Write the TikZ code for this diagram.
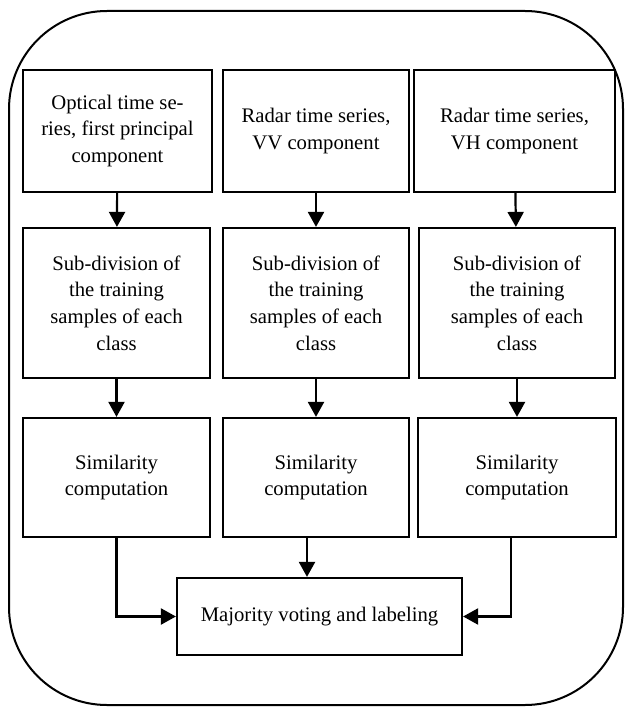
\documentclass[tikz,border=0pt]{standalone}
\usepackage{fontspec}
\setmainfont{Liberation Serif}
\usetikzlibrary{arrows.meta}
\newcommand{\myfs}{\fontsize{20.7}{26.7}\selectfont}
\begin{document}
\begin{tikzpicture}[x=1pt,y=-1pt,
  box/.style={draw, line width=2.2pt, inner sep=0pt, align=center, font=\myfs},
  arr/.style={line width=2.2pt, -{Triangle[width=16pt,length=15pt]}}]
\useasboundingbox (0,0) rectangle (624,708);
\draw[line width=2pt, rounded corners=98pt] (9,11) rectangle (623,705);
% row 1
\node[box, minimum width=189pt, minimum height=122pt] (a1) at (117.5,131) {Optical time se-\\ries, first principal\\component};
\node[box, minimum width=186pt, minimum height=122pt] (a2) at (316,131) {Radar time series,\\VV component};
\node[box, minimum width=201pt, minimum height=122pt] (a3) at (514.5,131) {Radar time series,\\VH component};
% row 2
\node[box, minimum width=187pt, minimum height=150pt] (b1) at (116.5,303) {Sub-division of\\the training\\samples of each\\class};
\node[box, minimum width=186pt, minimum height=150pt] (b2) at (316,303) {Sub-division of\\the training\\samples of each\\class};
\node[box, minimum width=196pt, minimum height=150pt] (b3) at (517,303) {Sub-division of\\the training\\samples of each\\class};
% row 3
\node[box, minimum width=187pt, minimum height=119pt] (c1) at (116.5,477.5) {Similarity\\computation};
\node[box, minimum width=186pt, minimum height=119pt] (c2) at (316,477.5) {Similarity\\computation};
\node[box, minimum width=198pt, minimum height=119pt] (c3) at (517,477.5) {Similarity\\computation};
% bottom
\node[box, minimum width=285pt, minimum height=77pt] (d) at (319.5,616.5) {Majority voting and labeling};
% arrows
\draw[arr] (a1) -- (b1);
\draw[arr] (a2) -- (b2);
\draw[arr] (a3) -- (b3);
\draw[arr] (b1) -- (c1);
\draw[arr] (b2) -- (c2);
\draw[arr] (b3) -- (c3);
\draw[arr] (c1.south) |- (d.west);
\draw[arr] ([xshift=-9pt]c2.south) -- ([xshift=-9pt]c2.south |- d.north);
\draw[arr] ([xshift=-6pt]c3.south) |- (d.east);
\end{tikzpicture}
\end{document}
